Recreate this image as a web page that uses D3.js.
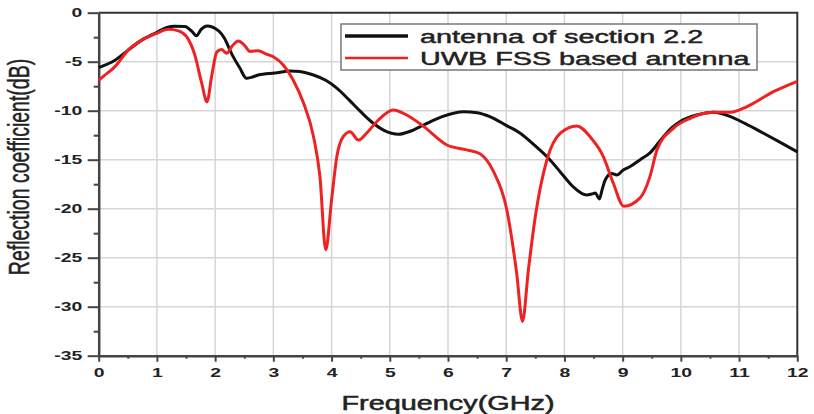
<!DOCTYPE html>
<html>
<head>
<meta charset="utf-8">
<script src="https://cdn.jsdelivr.net/npm/d3@7"></script>
<style>
  body { margin: 0; background: #fff; }
  svg { display: block; font-family: "Liberation Sans", Arial, sans-serif; }
</style>
</head>
<body>
<div id="chart"></div>
<script>
// data
const freqBlack = [0, 0.28, 0.51, 0.74, 1.0, 1.17, 1.3, 1.48, 1.6, 1.68, 1.76, 1.86, 2.06, 2.16, 2.28, 2.42, 2.54, 2.62, 2.74, 3.03, 3.29, 3.45, 3.69, 3.9, 4.09, 4.3, 4.5, 4.7, 4.9, 5.15, 5.35, 5.58, 5.9, 6.27, 6.5, 6.72, 7.0, 7.24, 7.5, 7.75, 7.95, 8.15, 8.38, 8.47, 8.53, 8.6, 8.65, 8.7, 8.81, 8.9, 9.01, 9.13, 9.3, 9.47, 9.7, 9.85, 9.99, 10.27, 10.56, 10.85, 11.1, 11.42, 11.7, 12];
const s11Black = [-5.6, -4.85, -3.8, -2.8, -2.0, -1.5, -1.37, -1.4, -1.9, -2.35, -1.7, -1.35, -1.85, -2.6, -4.15, -5.6, -6.7, -6.6, -6.36, -6.15, -5.95, -6.0, -6.36, -6.9, -7.7, -8.9, -10.1, -11.2, -12.0, -12.4, -12.1, -11.46, -10.6, -10.1, -10.2, -10.6, -11.5, -12.3, -13.6, -15.0, -16.4, -17.76, -18.6, -18.5, -18.4, -19.0, -18.0, -17.07, -16.4, -16.56, -16.05, -15.7, -15.0, -14.3, -12.65, -11.7, -11.1, -10.44, -10.17, -10.6, -11.3, -12.3, -13.2, -14.2];

const freqRed = [0, 0.1, 0.28, 0.51, 0.74, 1.0, 1.2, 1.37, 1.51, 1.65, 1.77, 1.86, 1.94, 2.03, 2.11, 2.2, 2.28, 2.4, 2.5, 2.6, 2.74, 2.87, 3.0, 3.17, 3.34, 3.52, 3.69, 3.8, 3.9, 4.0, 4.09, 4.2, 4.32, 4.46, 4.6, 4.78, 5.06, 5.29, 5.58, 5.98, 6.32, 6.55, 6.78, 7.01, 7.18, 7.28, 7.38, 7.5, 7.7, 7.93, 8.21, 8.44, 8.67, 8.84, 9.02, 9.3, 9.47, 9.59, 9.87, 10.15, 10.56, 10.85, 11.13, 11.59, 12];
const s11Red = [-6.9, -6.4, -5.5, -3.8, -2.8, -2.1, -1.7, -1.85, -2.45, -4.3, -7.2, -9.1, -6.5, -4.0, -3.75, -4.15, -3.5, -2.88, -3.3, -3.95, -3.87, -4.2, -4.5, -5.34, -6.87, -9.25, -12.65, -16.7, -24.2, -19.1, -14.7, -12.65, -12.14, -13.0, -12.3, -11.1, -9.93, -10.44, -11.6, -13.5, -14.0, -14.4, -16.2, -20.1, -26.6, -31.5, -26.3, -20.8, -15.0, -12.3, -11.56, -12.65, -14.7, -17.4, -19.75, -18.9, -16.7, -14.0, -11.8, -10.8, -10.17, -10.17, -9.6, -8.06, -7.0];

const seriesNames = ["antenna of section 2.2", "UWB FSS based antenna"];
const seriesColors = ["#111111", "#ee2222"];

const xTicks = d3.range(0, 13, 1);
const yTicks = d3.range(-35, 1, 5);
const xTitle = "Frequency(GHz)";
const yTitle = "Reflection coefficient(dB)";

const W = 814, H = 414;
const mLeft = 98.7, mRight = 797.3, mTop = 12.7, mBottom = 355.7;
const stretch = 1.55; // the picture is widened, so is its text

const x = d3.scaleLinear().domain([0, 12]).range([mLeft, mRight]);
const y = d3.scaleLinear().domain([-35, 0]).range([mBottom, mTop]);

const svg = d3.select("#chart").append("svg")
  .attr("width", W).attr("height", H);

// grid
svg.append("g").selectAll("line")
  .data(xTicks.slice(1, -1)).join("line")
  .attr("x1", d => x(d)).attr("x2", d => x(d))
  .attr("y1", mTop).attr("y2", mBottom)
  .attr("stroke", "#d6d6d6").attr("stroke-width", 1.5);
svg.append("g").selectAll("line")
  .data(yTicks.slice(1, -1)).join("line")
  .attr("x1", mLeft).attr("x2", mRight)
  .attr("y1", d => y(d)).attr("y2", d => y(d))
  .attr("stroke", "#d6d6d6").attr("stroke-width", 1.5);

// top / right frame
svg.append("path")
  .attr("d", `M${mLeft},${mTop}H${mRight}V${mBottom}`)
  .attr("fill", "none").attr("stroke", "#333").attr("stroke-width", 2);

// minor ticks
svg.append("g").attr("transform", `translate(0,${mBottom})`)
  .call(d3.axisBottom(x).tickValues(d3.range(0.5, 12, 1)).tickSize(3).tickFormat(""))
  .call(g => g.select(".domain").remove())
  .call(g => g.selectAll("line").attr("stroke", "#444").attr("stroke-width", 2));
svg.append("g").attr("transform", `translate(${mLeft},0)`)
  .call(d3.axisLeft(y).tickValues(d3.range(-32.5, 0, 5)).tickSize(5).tickFormat(""))
  .call(g => g.select(".domain").remove())
  .call(g => g.selectAll("line").attr("stroke", "#444").attr("stroke-width", 2));

// major axes
const xAxis = svg.append("g").attr("transform", `translate(0,${mBottom})`)
  .call(d3.axisBottom(x).tickValues(xTicks).tickSize(6).tickSizeOuter(0).tickFormat(d3.format("d")));
const yAxis = svg.append("g").attr("transform", `translate(${mLeft},0)`)
  .call(d3.axisLeft(y).tickValues(yTicks).tickSize(11).tickSizeOuter(0).tickFormat(d => d));

[xAxis, yAxis].forEach(g => {
  g.select(".domain").attr("stroke", "#444").attr("stroke-width", 2.5);
  g.selectAll(".tick line").attr("stroke", "#444").attr("stroke-width", 2);
  g.selectAll("text").attr("fill", "#222")
    .attr("font-size", 12.5).attr("font-weight", "bold")
    .attr("font-family", "'Liberation Sans', Arial, sans-serif");
});
xAxis.selectAll("text").attr("y", 12).attr("transform", `scale(${stretch},1)`);
yAxis.selectAll("text").attr("x", -16.5 / stretch).attr("transform", `scale(${stretch},1)`);

// curves
const line = d3.line().x(d => x(d[0])).y(d => y(d[1])).curve(d3.curveMonotoneX);
const series = [
  d3.zip(freqBlack, s11Black),
  d3.zip(freqRed, s11Red)
];
svg.append("g").selectAll("path")
  .data(series).join("path")
  .attr("d", line)
  .attr("fill", "none")
  .attr("stroke", (d, i) => seriesColors[i])
  .attr("stroke-width", 3)
  .attr("stroke-linejoin", "round");

// titles
svg.append("text")
  .attr("transform", `translate(${(mLeft + mRight) / 2},410) scale(1.48,1)`)
  .attr("text-anchor", "middle")
  .attr("font-size", 19.5).attr("fill", "#222")
  .attr("stroke", "#222").attr("stroke-width", 0.5)
  .text(xTitle);
svg.append("text")
  .attr("transform", `translate(29,167) scale(1.5,1) rotate(-90)`)
  .attr("text-anchor", "middle")
  .attr("font-size", 19.5).attr("fill", "#222")
  .attr("stroke", "#222").attr("stroke-width", 0.3)
  .text(yTitle);

// legend
const legend = svg.append("g");
legend.append("rect")
  .attr("x", 341).attr("y", 24).attr("width", 416).attr("height", 46)
  .attr("fill", "#fff").attr("stroke", "#777").attr("stroke-width", 1.5);
const rows = legend.selectAll("g.row")
  .data(seriesNames).join("g")
  .attr("transform", (d, i) => `translate(0,${36 + i * 22})`);
rows.append("line")
  .attr("x1", 345).attr("x2", 408)
  .attr("stroke", (d, i) => seriesColors[i])
  .attr("stroke-width", (d, i) => i === 0 ? 3.5 : 2.5);
rows.append("text")
  .attr("transform", `translate(420,7) scale(1.6,1)`)
  .attr("font-size", 18).attr("fill", "#222")
  .attr("stroke", "#222").attr("stroke-width", 0.45)
  .text(d => d);
</script>
</body>
</html>
